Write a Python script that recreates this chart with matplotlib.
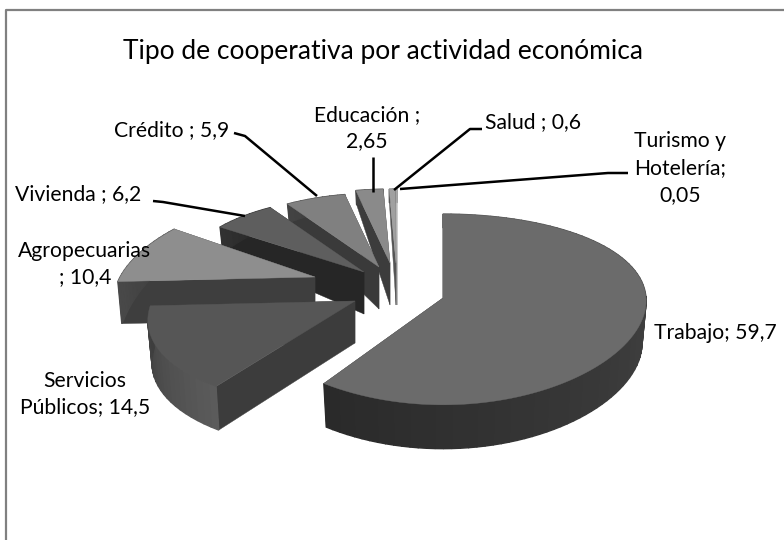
import numpy as np
import matplotlib
matplotlib.use('Agg')
import matplotlib.pyplot as plt

# Values, in clockwise order from 12 o'clock
categories = ['Trabajo', 'Servicios Públicos', 'Agropecuarias', 'Vivienda',
              'Crédito', 'Educación', 'Salud', 'Turismo y Hotelería']
values = [59.7, 14.5, 10.4, 6.2, 5.9, 2.65, 0.6, 0.05]

# Style per slice
top_colors = ['#6b6b6b', '#565656', '#8e8e8e', '#5e5e5e', '#808080', '#8a8a8a', '#a0a0a0', '#c0c0c0']
wall_colors = ['#303030', '#3c3c3c', '#3e3e3e', '#262626', '#3a3a3a', '#3c3c3c', '#555555', '#999999']
rim_from = ['#505050', '#5c5c5c', '#4a4a4a', '#333333', '#444444', '#444444', '#555555', '#999999']
rim_to = ['#2a2a2a', '#3e3e3e', '#3e3e3e', '#262626', '#3a3a3a', '#3c3c3c', '#555555', '#999999']
explode_x = [0, -88, -128, -79, -64, -53, -47, -46]
explode_y = [0, 3, -21, -26, -31, -35, -35, -35]
slice_scale = [1.0, 1.0, 0.96, 0.9, 0.88, 0.88, 0.88, 0.88]
slice_persp_x = [0.03, 0.2, 0.25, 0.08, 0.08, 0.08, 0.08, 0.08]

# Projection of the tilted pie, in pixels
center_x, center_y = 443, 298
radius_x, radius_y = 203, 94
persp_y = 0.12


def project(theta, scale, persp_x):
    u, v = np.sin(theta), np.cos(theta)
    dx = u * radius_x * scale / (1 + persp_x * v)
    dy = -v * radius_y * scale / (1 + persp_y * v)
    return dx, dy


def thickness(theta):
    v = np.cos(theta)
    return np.where(v > 0, 42 - 30 * v, 42 - 4 * v)


def mix(c1, c2, t):
    a = np.array(matplotlib.colors.to_rgb(c1))
    b = np.array(matplotlib.colors.to_rgb(c2))
    return tuple(a + (b - a) * t)


def draw_slice(ax, start, end, i):
    ax0 = center_x + explode_x[i]
    ay0 = center_y + explode_y[i]
    th = np.linspace(start, end, max(int((end - start) * 25), 3))
    dx, dy = project(th, slice_scale[i], slice_persp_x[i])
    top_x, top_y = ax0 + dx, ay0 + dy
    bot_x = ax0 + 0.98 * dx
    bot_y = ay0 + 0.98 * dy + thickness(th)
    apex_d = float(thickness(np.pi / 2))

    # radial walls
    for k in (0, -1):
        ax.fill([ax0, top_x[k], bot_x[k], ax0], [ay0, top_y[k], bot_y[k], ay0 + apex_d],
                color=wall_colors[i], lw=0.3)
    # outer wall with a shading running along the arc
    for k in range(len(th) - 1):
        col = mix(rim_from[i], rim_to[i], (k + 1) / (len(th) - 1))
        ax.fill([top_x[k], top_x[k + 1], bot_x[k + 1], bot_x[k]],
                [top_y[k], top_y[k + 1], bot_y[k + 1], bot_y[k]], color=col, lw=1.0)
    # top face
    ax.fill(np.r_[ax0, top_x], np.r_[ay0, top_y], color=top_colors[i], lw=0.3)


fig = plt.figure(figsize=(7.84, 5.4), dpi=100)
ax = fig.add_axes([0, 0, 1, 1])
ax.set_xlim(0, 784)
ax.set_ylim(540, 0)
ax.axis('off')

# chart frame, cut off at the right and bottom of the picture
ax.plot([6, 6, 784], [540, 9.5, 9.5], color='#808080', lw=1.6)

edges = np.r_[0, np.cumsum(values)] / sum(values) * 2 * np.pi
for i in [7, 6, 5, 4, 3, 2, 1, 0]:
    draw_slice(ax, edges[i], edges[i + 1], i)

# leader lines
leaders = [
    ([234, 245, 317], [133, 136, 196]),
    ([153, 163, 245], [201, 202, 216]),
    ([373, 373], [157, 192]),
    ([482, 470, 394], [129, 129, 190]),
    ([628, 608, 400], [173, 173, 189]),
]
for xs, ys in leaders:
    ax.plot(xs, ys, color='black', lw=1.8, solid_capstyle='butt')

font = 'Lato'
ax.text(383, 52, 'Tipo de cooperativa por actividad económica', ha='center', va='center',
        fontsize=19, family=font, color='black')
label_kw = dict(family=font, fontsize=15.2, color='black', va='center', linespacing=1.42)
ax.text(654, 333, 'Trabajo; 59,7', ha='left', **label_kw)
ax.text(85, 394, 'Servicios\nPúblicos; 14,5', ha='center', **label_kw)
ax.text(85, 264, 'Agropecuarias\n; 10,4', ha='center', **label_kw)
ax.text(15, 194, 'Vivienda ; 6,2', ha='left', **label_kw)
ax.text(114, 130, 'Crédito ; 5,9', ha='left', **label_kw)
ax.text(367, 128, 'Educación ;\n2,65', ha='center', **label_kw)
ax.text(485, 122, 'Salud ; 0,6', ha='left', **label_kw)
ax.text(680, 168, 'Turismo y\nHotelería;\n0,05', ha='center', **label_kw)

fig.savefig('out.png', dpi=100)
